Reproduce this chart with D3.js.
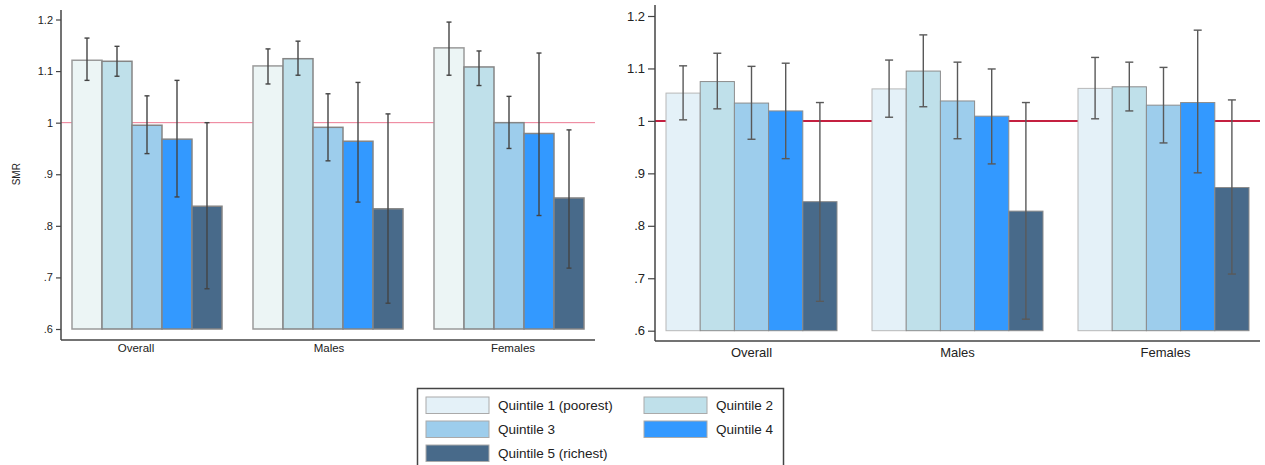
<!DOCTYPE html>
<html>
<head>
<meta charset="utf-8">
<script src="https://cdn.jsdelivr.net/npm/d3@7"></script>
<style>
  html, body { margin: 0; padding: 0; background: #fff; }
  svg { display: block; font-family: Arial, "Liberation Sans", sans-serif; }
</style>
</head>
<body>
<svg id="chart" width="1265" height="465"></svg>
<script>
// ---- data ----
const categories = ["Overall", "Males", "Females"];
const quintiles = ["Quintile 1 (poorest)", "Quintile 2", "Quintile 3", "Quintile 4", "Quintile 5 (richest)"];
const yTicks = [0.6, 0.7, 0.8, 0.9, 1.0, 1.1, 1.2];
const yTickLabels = [".6", ".7", ".8", ".9", "1", "1.1", "1.2"];

// left panel: [category][quintile]
const leftSMR  = [[1.121, 1.119, 0.995, 0.968, 0.838], [1.110, 1.124, 0.991, 0.964, 0.833], [1.145, 1.108, 1.000, 0.979, 0.854]];
const leftLow  = [[1.082, 1.090, 0.940, 0.856, 0.678], [1.075, 1.092, 0.926, 0.846, 0.650], [1.092, 1.072, 0.950, 0.820, 0.718]];
const leftHigh = [[1.164, 1.148, 1.052, 1.082, 1.000], [1.143, 1.158, 1.056, 1.078, 1.017], [1.195, 1.139, 1.051, 1.135, 0.986]];

// right panel
const rightSMR  = [[1.053, 1.075, 1.034, 1.019, 0.846], [1.061, 1.095, 1.038, 1.009, 0.828], [1.062, 1.065, 1.030, 1.035, 0.873]];
const rightLow  = [[1.002, 1.023, 0.965, 0.928, 0.656], [1.007, 1.027, 0.966, 0.918, 0.622], [1.004, 1.019, 0.958, 0.901, 0.708]];
const rightHigh = [[1.105, 1.129, 1.104, 1.110, 1.035], [1.116, 1.164, 1.112, 1.099, 1.035], [1.121, 1.112, 1.102, 1.173, 1.040]];

const refValue = 1.0;

// ---- styles ----
const colorsLeft  = ["#ecf5f5", "#bfe0ea", "#9dcdec", "#3399ff", "#486a8a"];
const colorsRight = ["#e4f1f8", "#bfe0ea", "#9dcdec", "#3399ff", "#486a8a"];

const svg = d3.select("#chart");

function drawPanel(o) {
  const g = svg.append("g");
  const x0 = d3.scaleBand().domain(categories).range([o.x0, o.x1])
    .paddingInner(o.padIn).paddingOuter(o.padOut);
  const xq = d3.scaleBand().domain(d3.range(quintiles.length)).range([0, x0.bandwidth()]).padding(0);
  const y = d3.scaleLinear().domain([0.6, 1.2]).range([o.yBottom, o.yTop]);

  // reference line (behind bars)
  g.append("line")
    .attr("x1", o.x0).attr("x2", o.x1)
    .attr("y1", y(refValue)).attr("y2", y(refValue))
    .attr("stroke", o.refColor).attr("stroke-width", o.refWidth);

  // bars
  categories.forEach((c, ci) => {
    const cg = g.append("g").attr("transform", `translate(${x0(c)},0)`);
    quintiles.forEach((q, qi) => {
      cg.append("rect")
        .attr("x", xq(qi)).attr("width", xq.bandwidth())
        .attr("y", y(o.smr[ci][qi]))
        .attr("height", y(0.6) - y(o.smr[ci][qi]))
        .attr("fill", o.colors[qi])
        .attr("stroke", qi === 0 ? o.strokeQ1 : o.stroke)
        .attr("stroke-width", o.strokeWidth);
    });
    // error bars
    quintiles.forEach((q, qi) => {
      const cx = xq(qi) + xq.bandwidth() / 2;
      const lo = y(o.low[ci][qi]), hi = y(o.high[ci][qi]);
      cg.append("line").attr("x1", cx).attr("x2", cx).attr("y1", lo).attr("y2", hi)
        .attr("stroke", o.errColor).attr("stroke-width", o.errWidth);
      [lo, hi].forEach(v => {
        cg.append("line").attr("x1", cx - o.cap).attr("x2", cx + o.cap).attr("y1", v).attr("y2", v)
          .attr("stroke", o.errColor).attr("stroke-width", o.errWidth);
      });
    });
  });

  // y axis
  const yAxis = d3.axisLeft(y).tickValues(yTicks)
    .tickFormat((d, i) => yTickLabels[i]).tickSize(o.tickLen).tickSizeOuter(0).tickPadding(3);
  const ya = g.append("g").attr("transform", `translate(${o.x0},0)`).call(yAxis);
  ya.select(".domain").attr("d", `M0,${o.axisTop}V${o.axisBottom}`).attr("stroke", "#444").attr("stroke-width", 1.5);
  ya.selectAll(".tick line").attr("stroke", "#444").attr("stroke-width", 1.2);
  ya.selectAll(".tick text").attr("font-size", o.tickFont).attr("fill", "#222")
    .attr("font-family", "Arial, 'Liberation Sans', sans-serif");

  // x axis
  const xAxis = d3.axisBottom(x0).tickSize(0).tickSizeOuter(0).tickPadding(o.xLabelPad);
  const xa = g.append("g").attr("transform", `translate(0,${o.axisBottom})`).call(xAxis);
  xa.select(".domain").attr("d", `M${o.x0},0H${o.x1}`).attr("stroke", "#444").attr("stroke-width", 1.5);
  xa.selectAll(".tick text").attr("font-size", o.catFont).attr("fill", "#222")
    .attr("dx", (d, i) => o.labelShift ? o.labelShift[i] : 0)
    .attr("font-family", "Arial, 'Liberation Sans', sans-serif");

  if (o.yLabel) {
    g.append("text").attr("transform", `translate(${o.yLabelX},${y(0.9)}) rotate(-90)`)
      .attr("text-anchor", "middle").attr("font-size", 10).attr("fill", "#222").text(o.yLabel);
  }
}

drawPanel({
  x0: 61, x1: 595, padIn: 31 / 181, padOut: 11 / 181,
  yBottom: 329, yTop: 19.5, axisTop: 10, axisBottom: 340,
  smr: leftSMR, low: leftLow, high: leftHigh, colors: colorsLeft,
  stroke: "#858585", strokeQ1: "#9a9a9a", strokeWidth: 1.5,
  errColor: "#444", errWidth: 1.4, cap: 2.5,
  refColor: "#ec7a92", refWidth: 1,
  tickLen: 5, tickFont: 11, catFont: 11.5, xLabelPad: 4,
  labelShift: [-11, 1, 4],
  yLabel: "SMR", yLabelX: 20
});

drawPanel({
  x0: 655, x1: 1260, padIn: 35 / 206, padOut: 11 / 206,
  yBottom: 330.7, yTop: 16, axisTop: 5, axisBottom: 341,
  smr: rightSMR, low: rightLow, high: rightHigh, colors: colorsRight,
  stroke: "#8c8c8c", strokeQ1: "#b8b8b8", strokeWidth: 1,
  errColor: "#595959", errWidth: 1.4, cap: 4,
  refColor: "#c42040", refWidth: 2,
  tickLen: 7, tickFont: 13, catFont: 13, xLabelPad: 7,
  labelShift: [0, 0, 2],
  yLabel: null
});

// legend
const legend = svg.append("g");
legend.append("rect").attr("x", 417.5).attr("y", 388.5).attr("width", 366).attr("height", 90)
  .attr("fill", "#fff").attr("stroke", "#444").attr("stroke-width", 1.5);
const legPos = [[426, 397], [644, 397], [426, 421], [644, 421], [426, 445]];
quintiles.forEach((q, i) => {
  const [lx, ly] = legPos[i];
  legend.append("rect").attr("x", lx).attr("y", ly).attr("width", 63).attr("height", 16.5)
    .attr("fill", colorsRight[i]).attr("stroke", "#aaa").attr("stroke-width", 1);
  legend.append("text").attr("x", lx + 72).attr("y", ly + 13).attr("font-size", 13.5)
    .attr("fill", "#222").text(q);
});
</script>
</body>
</html>
